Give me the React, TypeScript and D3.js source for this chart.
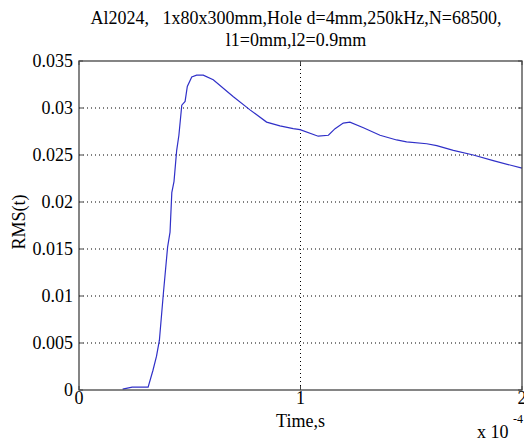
import React from "react";
import * as d3 from "d3";

// time in units of 1e-4 s
const timeVals = [
  0.197, 0.24, 0.312, 0.334, 0.35, 0.363, 0.381, 0.4, 0.411, 0.419, 0.429, 0.441, 0.451,
  0.464, 0.479, 0.489, 0.509, 0.531, 0.561, 0.606, 0.697, 0.772, 0.847, 0.907, 0.967,
  0.998, 1.08, 1.126, 1.156, 1.193, 1.223, 1.284, 1.359, 1.434, 1.479, 1.57, 1.615,
  1.69, 1.78, 1.87, 2.0,
];
const rmsVals = [
  0.0001, 0.0003, 0.0003, 0.0021, 0.0036, 0.0053, 0.0103, 0.0152, 0.0168, 0.021, 0.0222,
  0.0255, 0.0271, 0.0303, 0.0307, 0.0323, 0.0333, 0.0335, 0.0335, 0.033, 0.0312, 0.0298,
  0.0285, 0.0281, 0.0278, 0.0277, 0.027, 0.0271, 0.0278, 0.0284, 0.0285, 0.0279, 0.0271,
  0.0266, 0.0264, 0.0262, 0.026, 0.0255, 0.025, 0.0244, 0.0236,
];
const xTicks = [0, 1, 2];
const yTicks = [0, 0.005, 0.01, 0.015, 0.02, 0.025, 0.03, 0.035];
const yTickLabels = ["0", "0.005", "0.01", "0.015", "0.02", "0.025", "0.03", "0.035"];
const titleLines = [
  "Al2024,   1x80x300mm,Hole d=4mm,250kHz,N=68500,",
  "l1=0mm,l2=0.9mm",
];

export default function App() {
  const W = 524, H = 441;
  const left = 79, right = 522, top = 61, bottom = 390;
  const x = d3.scaleLinear().domain([0, 2]).range([left, right]);
  const y = d3.scaleLinear().domain([0, 0.035]).range([bottom, top]);
  const pts = timeVals.map((t, i) => [t, rmsVals[i]] as [number, number]);
  const line = d3.line<[number, number]>().x((d) => x(d[0])).y((d) => y(d[1]));
  const font = "'Liberation Serif', 'Times New Roman', serif";
  const axisColor = "#444";
  const tl = 4;
  const fs = 18;
  return (
    <svg width={W} height={H} style={{ position: "absolute", left: 0, top: 0, background: "#fff" }}>
      <rect x={0} y={0} width={W} height={H} fill="#fff" />
      {/* grid */}
      {yTicks.slice(1, -1).map((v) => (
        <line key={"gy" + v} x1={left} x2={right} y1={y(v)} y2={y(v)} stroke="#000" strokeWidth={1} strokeDasharray="1,3" />
      ))}
      {xTicks.slice(1, -1).map((v) => (
        <line key={"gx" + v} x1={x(v)} x2={x(v)} y1={top} y2={bottom} stroke="#000" strokeWidth={1} strokeDasharray="1,3" />
      ))}
      {/* curve */}
      <path d={line(pts) || ""} fill="none" stroke="#3030c8" strokeWidth={1.2} />
      {/* box */}
      <rect x={left} y={top} width={right - left} height={bottom - top} fill="none" stroke={axisColor} strokeWidth={1.3} />
      {/* ticks */}
      {yTicks.map((v) => (
        <g key={"ty" + v}>
          <line x1={left} x2={left + tl} y1={y(v)} y2={y(v)} stroke={axisColor} />
          <line x1={right} x2={right - tl} y1={y(v)} y2={y(v)} stroke={axisColor} />
        </g>
      ))}
      {xTicks.map((v) => (
        <g key={"tx" + v}>
          <line x1={x(v)} x2={x(v)} y1={bottom} y2={bottom - tl} stroke={axisColor} />
          <line x1={x(v)} x2={x(v)} y1={top} y2={top + tl} stroke={axisColor} />
        </g>
      ))}
      {/* tick labels */}
      {yTicks.map((v, i) => (
        <text key={"ly" + v} x={left - 6} y={y(v) + 6} textAnchor="end" fontFamily={font} fontSize={fs} fill="#000">
          {yTickLabels[i]}
        </text>
      ))}
      {xTicks.map((v) => (
        <text key={"lx" + v} x={x(v)} y={bottom + 14} textAnchor="middle" fontFamily={font} fontSize={fs} fill="#000">
          {String(v)}
        </text>
      ))}
      <text x={477} y={438} fontFamily={font} fontSize={fs} fill="#000">
        x 10
      </text>
      <text x={513} y={423} fontFamily={font} fontSize={12} fill="#000">
        -4
      </text>
      {/* axis labels */}
      <text x={(left + right) / 2} y={427} textAnchor="middle" fontFamily={font} fontSize={fs} fill="#000">
        Time,s
      </text>
      <text transform={`translate(25, ${222}) rotate(-90)`} textAnchor="middle" fontFamily={font} fontSize={fs} fill="#000">
        RMS(t)
      </text>
      {/* title */}
      {titleLines.map((s, i) => (
        <text key={"t" + i} x={296} y={24 + i * 22} textAnchor="middle" fontFamily={font} fontSize={fs} fill="#000" style={{ whiteSpace: "pre" }}>
          {s}
        </text>
      ))}
    </svg>
  );
}
